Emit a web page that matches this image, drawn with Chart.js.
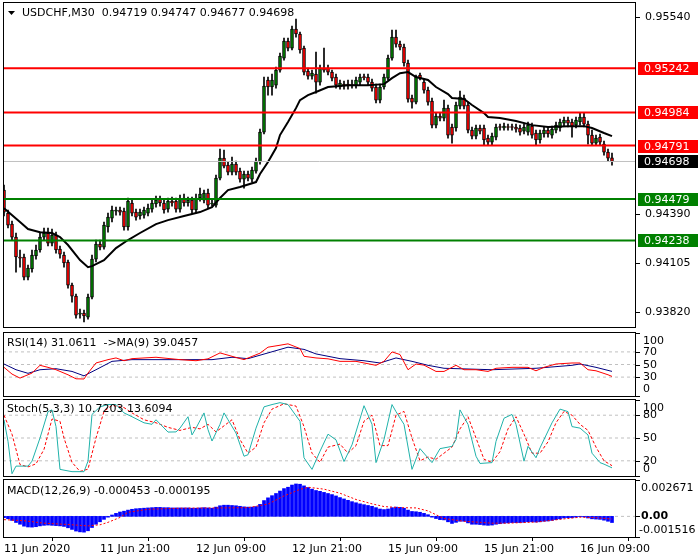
<!DOCTYPE html>
<html>
<head>
<meta charset="utf-8">
<script src="https://cdn.jsdelivr.net/npm/chart.js@4.4.1/dist/chart.umd.min.js"></script>
<style>
html, body { margin: 0; padding: 0; background: #fff; }
#wrap { position: relative; width: 700px; height: 560px; background: #fff; overflow: hidden; }
canvas { position: absolute; left: 0; }
</style>
</head>
<body>
<div id="wrap">
  <canvas id="cMain" width="700" height="330" style="top:0px"></canvas>
  <canvas id="cRsi" width="700" height="70" style="top:330px"></canvas>
  <canvas id="cStoch" width="700" height="82" style="top:398px"></canvas>
  <canvas id="cMacd" width="700" height="82" style="top:478px"></canvas>
</div>
<script>
// ================== DATOS ==================
const timeIdx = [0, 24, 48, 72, 96, 120, 144];
const timeLabels = ['11 Jun 2020', '11 Jun 21:00', '12 Jun 09:00', '12 Jun 21:00', '15 Jun 09:00', '15 Jun 21:00', '16 Jun 09:00'];

const open = [
0.94531,0.94397,0.94333,0.94257,0.94141,0.94141,0.94024,0.94071,0.94147,0.94182,
0.94257,0.94281,0.94222,0.94269,0.94187,0.94152,0.94112,0.93977,0.93913,0.93808,
0.93814,0.93791,0.93907,0.94129,0.94216,0.94199,0.94316,0.94368,0.94409,0.94415,
0.94409,0.94316,0.94456,0.94403,0.94380,0.94385,0.94397,0.94420,0.94450,0.94479,
0.94456,0.94420,0.94467,0.94467,0.94420,0.94485,0.94456,0.94473,0.94415,0.94485,
0.94473,0.94514,0.94450,0.94444,0.94601,0.94718,0.94677,0.94636,0.94683,0.94642,
0.94595,0.94625,0.94595,0.94642,0.94695,0.94869,0.95173,0.95132,0.95143,0.95231,
0.95301,0.95400,0.95359,0.95470,0.95441,0.95359,0.95225,0.95196,0.95208,0.95161,
0.95237,0.95243,0.95219,0.95190,0.95132,0.95149,0.95149,0.95143,0.95143,0.95161,
0.95190,0.95190,0.95161,0.95132,0.95056,0.95132,0.95184,0.95301,0.95423,0.95382,
0.95365,0.95272,0.95068,0.95044,0.95202,0.95161,0.95114,0.95050,0.94910,0.94963,
0.94951,0.95009,0.94899,0.94893,0.95021,0.95068,0.95027,0.94881,0.94846,0.94893,
0.94893,0.94834,0.94811,0.94840,0.94899,0.94893,0.94899,0.94899,0.94899,0.94893,
0.94875,0.94869,0.94904,0.94864,0.94823,0.94858,0.94881,0.94852,0.94881,0.94893,
0.94922,0.94939,0.94928,0.94910,0.94928,0.94957,0.94916,0.94852,0.94805,0.94840,
0.94799,0.94753,0.94719];
const high = [
0.94560,0.94415,0.94351,0.94281,0.94182,0.94158,0.94094,0.94182,0.94211,0.94286,
0.94310,0.94310,0.94304,0.94286,0.94205,0.94170,0.94123,0.93989,0.93925,0.93837,
0.93832,0.93925,0.94152,0.94240,0.94240,0.94345,0.94397,0.94438,0.94432,0.94432,
0.94426,0.94485,0.94473,0.94420,0.94420,0.94432,0.94450,0.94479,0.94496,0.94496,
0.94473,0.94485,0.94490,0.94485,0.94502,0.94508,0.94490,0.94490,0.94508,0.94543,
0.94531,0.94537,0.94473,0.94619,0.94770,0.94764,0.94695,0.94724,0.94700,0.94660,
0.94642,0.94642,0.94665,0.94718,0.94887,0.95190,0.95190,0.95208,0.95248,0.95330,
0.95417,0.95417,0.95487,0.95528,0.95452,0.95371,0.95243,0.95231,0.95336,0.95260,
0.95359,0.95260,0.95231,0.95208,0.95173,0.95167,0.95173,0.95173,0.95190,0.95208,
0.95208,0.95208,0.95178,0.95149,0.95149,0.95208,0.95318,0.95464,0.95464,0.95400,
0.95382,0.95289,0.95085,0.95202,0.95213,0.95178,0.95132,0.95068,0.94980,0.94980,
0.95056,0.95027,0.94916,0.95044,0.95108,0.95085,0.95044,0.94899,0.94910,0.94910,
0.94910,0.94852,0.94864,0.94916,0.94916,0.94922,0.94916,0.94916,0.94916,0.94910,
0.94916,0.94928,0.94922,0.94881,0.94881,0.94899,0.94899,0.94904,0.94928,0.94945,
0.94957,0.94957,0.94945,0.94957,0.94980,0.94980,0.94934,0.94881,0.94852,0.94858,
0.94817,0.94770,0.94747];
const low = [
0.94380,0.94310,0.94240,0.94053,0.94082,0.94007,0.94007,0.94053,0.94129,0.94170,
0.94240,0.94205,0.94205,0.94164,0.94135,0.94082,0.93960,0.93878,0.93785,0.93785,
0.93762,0.93779,0.93896,0.94112,0.94182,0.94187,0.94286,0.94345,0.94385,0.94385,
0.94298,0.94298,0.94380,0.94356,0.94362,0.94368,0.94380,0.94403,0.94432,0.94438,
0.94397,0.94403,0.94438,0.94403,0.94403,0.94438,0.94438,0.94397,0.94397,0.94467,
0.94456,0.94426,0.94438,0.94432,0.94590,0.94660,0.94619,0.94619,0.94619,0.94578,
0.94543,0.94584,0.94578,0.94630,0.94683,0.94858,0.95085,0.95085,0.95126,0.95219,
0.95289,0.95342,0.95348,0.95423,0.95330,0.95202,0.95178,0.95178,0.95097,0.95143,
0.95219,0.95202,0.95167,0.95126,0.95120,0.95120,0.95120,0.95126,0.95126,0.95143,
0.95173,0.95143,0.95108,0.95039,0.95039,0.95120,0.95173,0.95289,0.95365,0.95348,
0.95254,0.95044,0.95009,0.95033,0.95173,0.95097,0.95027,0.94893,0.94893,0.94934,
0.94934,0.94834,0.94805,0.94875,0.95004,0.95004,0.94864,0.94829,0.94829,0.94858,
0.94794,0.94794,0.94794,0.94823,0.94881,0.94881,0.94881,0.94881,0.94869,0.94852,
0.94858,0.94852,0.94834,0.94794,0.94805,0.94840,0.94840,0.94834,0.94864,0.94875,
0.94904,0.94899,0.94840,0.94893,0.94910,0.94899,0.94799,0.94794,0.94794,0.94794,
0.94735,0.94700,0.94677];
const close = [
0.94403,0.94327,0.94257,0.94141,0.94135,0.94024,0.94077,0.94152,0.94182,0.94257,
0.94281,0.94222,0.94269,0.94182,0.94158,0.94106,0.93977,0.93913,0.93802,0.93814,
0.93797,0.93907,0.94129,0.94216,0.94199,0.94327,0.94374,0.94415,0.94415,0.94403,
0.94316,0.94467,0.94397,0.94374,0.94403,0.94415,0.94426,0.94456,0.94473,0.94456,
0.94415,0.94467,0.94456,0.94420,0.94479,0.94456,0.94473,0.94415,0.94485,0.94508,
0.94514,0.94444,0.94456,0.94601,0.94718,0.94671,0.94636,0.94683,0.94636,0.94595,
0.94625,0.94601,0.94648,0.94700,0.94869,0.95138,0.95132,0.95173,0.95231,0.95313,
0.95400,0.95359,0.95470,0.95441,0.95348,0.95219,0.95196,0.95213,0.95161,0.95243,
0.95231,0.95219,0.95184,0.95143,0.95155,0.95138,0.95138,0.95141,0.95173,0.95190,
0.95187,0.95161,0.95126,0.95056,0.95132,0.95190,0.95301,0.95423,0.95382,0.95365,
0.95272,0.95062,0.95044,0.95190,0.95184,0.95114,0.95044,0.94910,0.94963,0.94951,
0.95009,0.94852,0.94852,0.95027,0.95074,0.95021,0.94881,0.94846,0.94893,0.94875,
0.94823,0.94811,0.94846,0.94899,0.94896,0.94904,0.94896,0.94896,0.94887,0.94869,
0.94899,0.94910,0.94852,0.94823,0.94864,0.94881,0.94858,0.94887,0.94910,0.94928,
0.94939,0.94922,0.94899,0.94939,0.94957,0.94916,0.94852,0.94805,0.94834,0.94811,
0.94753,0.94718,0.94698];

const maIdx = [0,4,6,9,12,14,16,19,21,22,25,28,31,34,38,41,45,49,52,54,56,59,63,64,66,68,69,71,73,74,76,78,81,86,91,95,97,99,101,103,106,108,111,112,115,117,120,121,124,128,132,136,141,145,147,150,152];
const maVal = [0.94426,0.94345,0.94304,0.94286,0.94281,0.94257,0.94211,0.94123,0.94082,0.94088,0.94123,0.94193,0.94240,0.94281,0.94333,0.94356,0.94380,0.94403,0.94432,0.94485,0.94531,0.94549,0.94578,0.94625,0.94695,0.94776,0.94852,0.94928,0.95009,0.95056,0.95085,0.95103,0.95132,0.95143,0.95143,0.95149,0.95184,0.95213,0.95219,0.95190,0.95173,0.95132,0.95091,0.95068,0.95062,0.95027,0.94980,0.94957,0.94951,0.94934,0.94910,0.94899,0.94904,0.94904,0.94893,0.94864,0.94846];

const resistLevels = [0.95242, 0.94984, 0.94791];
const supportLevels = [0.94479, 0.94238];
const lastPrice = 0.94698;
const priceTicks = [0.95540, 0.94390, 0.94105, 0.93820];

// RSI(14) y su MA(9)
const rsiIdx = [0,2,4,7,9,11,13,16,18,20,21,23,26,28,30,32,38,44,48,51,54,57,60,64,66,69,71,74,75,78,81,84,88,93,95,97,99,101,103,105,108,110,113,115,118,121,123,127,131,133,135,138,142,144,146,148,151,152];
const rsiVal = [45.5,34.8,28.4,36.4,48.7,45.5,41.7,33.7,27.3,27,36.4,52.4,57.7,60.4,56,59.3,61.5,57.7,56,59,68.4,63,57.7,68,77.5,80.6,82.8,75.3,63,60.4,59,55,55,48.7,55,70,65.8,41.7,50.8,49,39,39,48.7,41.7,41.7,39,44,45.5,45.5,40,45.5,50.8,52.4,52.4,41.7,40,33.7,31.06];
const rsiMaIdx = [0,3,6,9,13,17,20,23,27,32,44,52,57,61,66,71,75,78,84,90,94,98,102,106,110,122,133,142,144,148,152];
const rsiMaVal = [50.8,41.7,36,41.7,43.3,39,32,41.7,55,57.7,57.7,57.7,61.5,59.3,68.4,77.5,74,66.8,59.3,56,52.4,60.4,55,48.7,44,41.7,44,48.7,50.8,45.5,39.05];
const rsiLevels = [70, 50, 30];

// Stoch(5,3,3)
const stIdx = [0,1,2,3,6,7,9,11,12,13,14,17,20,21,22,24,26,28,30,32,35,37,38,41,43,44,46,47,48,50,51,52,54,55,56,58,60,61,63,65,67,69,71,74,75,77,79,81,83,85,87,90,92,93,95,97,98,100,102,104,107,109,112,113,114,116,118,119,122,123,125,127,128,130,131,133,134,137,139,141,142,144,146,147,149,150,152];
const stVal = [73.8,45.6,3,13,13,19.5,50,84.7,87,65,8.7,5.7,5.7,19.5,81,91,94,94,83,78,70,68,74,57.8,58,63,78,54,63,83,61,46,68,83,74,56.5,26,28,63,91,94,96.5,94,72,24,8.7,32.6,55,47.6,19,41,92.5,68,17.6,48,94,84.7,68,8.7,36,17.6,36,39,48,87,68,26,16.5,17.6,45.6,76,81,68,19.5,39,24,37,70,88,84.7,65,63,54,30,17.6,15.6,10.72];
const stSigIdx = [0,2,4,6,8,10,12,14,15,17,19,21,23,25,27,30,32,35,38,41,44,47,49,51,53,55,57,59,61,63,65,67,70,73,75,77,79,81,84,86,88,90,92,94,96,98,100,102,104,106,108,110,112,114,116,118,120,122,124,126,128,130,132,134,136,138,140,142,144,146,148,150,152];
const stSigVal = [80,55,15,12,16,35,75,72,50,18,6,9,50,85,93,90,83,74,70,64,60,64,62,68,58,66,74,48,30,38,70,88,95,92,65,30,18,38,42,30,40,72,80,40,40,80,85,50,20,25,22,30,38,62,78,50,22,18,32,62,78,55,30,30,45,70,85,80,68,60,38,20,13.61];
const stLevels = [80, 50, 20];

// MACD(12,26,9)
const macdHist = [
-0.00010,-0.00018,-0.00030,-0.00045,-0.00058,-0.00072,-0.00078,-0.00079,-0.00076,-0.00070,
-0.00066,-0.00064,-0.00066,-0.00068,-0.00070,-0.00074,-0.00084,-0.00096,-0.00108,-0.00114,
-0.00116,-0.00106,-0.00082,-0.00058,-0.00040,-0.00022,-0.00006,0.00010,0.00022,0.00032,
0.00038,0.00046,0.00052,0.00056,0.00058,0.00060,0.00062,0.00064,0.00066,0.00066,
0.00064,0.00064,0.00062,0.00062,0.00062,0.00062,0.00062,0.00060,0.00060,0.00062,
0.00064,0.00062,0.00060,0.00068,0.00078,0.00082,0.00082,0.00080,0.00078,0.00074,
0.00070,0.00068,0.00068,0.00072,0.00088,0.00116,0.00136,0.00152,0.00168,0.00186,
0.00204,0.00214,0.00230,0.00238,0.00236,0.00224,0.00212,0.00200,0.00190,0.00184,
0.00176,0.00168,0.00160,0.00150,0.00138,0.00128,0.00118,0.00108,0.00100,0.00092,
0.00086,0.00080,0.00074,0.00064,0.00054,0.00050,0.00054,0.00064,0.00068,0.00066,
0.00060,0.00046,0.00036,0.00034,0.00030,0.00022,0.00012,-0.00006,-0.00016,-0.00024,
-0.00026,-0.00040,-0.00052,-0.00044,-0.00036,-0.00036,-0.00048,-0.00058,-0.00058,-0.00060,
-0.00064,-0.00066,-0.00064,-0.00058,-0.00054,-0.00050,-0.00048,-0.00046,-0.00046,-0.00046,
-0.00044,-0.00040,-0.00040,-0.00042,-0.00040,-0.00036,-0.00034,-0.00030,-0.00024,-0.00018,
-0.00012,-0.00010,-0.00010,-0.00006,-0.00002,-0.00004,-0.00012,-0.00018,-0.00020,-0.00022,
-0.00028,-0.00036,-0.000453];
const macdSigIdx = [0,5,10,16,21,24,26,29,31,36,44,54,61,66,70,74,76,80,84,88,92,95,99,103,106,108,110,115,122,126,133,139,144,148,152];
const macdSigVal = [-0.00024,-0.00032,-0.00050,-0.00060,-0.00070,-0.00062,-0.00044,-0.00008,0.00030,0.00052,0.00060,0.00062,0.00064,0.00090,0.00150,0.00198,0.00214,0.00200,0.00170,0.00124,0.00092,0.00072,0.00064,0.00062,0.00040,0.00012,-0.00016,-0.00036,-0.00050,-0.00050,-0.00042,-0.00022,-0.00006,-0.00010,-0.000195];

// ================== CONFIG ==================
const FONT = '11px "DejaVu Sans"';
const X_MIN = -0.25, X_MAX = 158;
Chart.defaults.font.family = '"DejaVu Sans"';
Chart.defaults.font.size = 11;
Chart.defaults.color = '#000';

const toPts = (idx, vals) => idx.map((x, k) => ({ x: x, y: vals[k] }));
const levelLine = (v, color, width, dash) => ({
    type: 'line',
    data: [{ x: X_MIN, y: v }, { x: X_MAX, y: v }],
    borderColor: color, borderWidth: width, borderDash: dash || [],
    pointRadius: 0, order: 0
});

// bordes, títulos y etiquetas del eje derecho
const panelDecor = {
    id: 'panelDecor',
    afterDatasetsDraw(chart, args, opts) {
        const ctx = chart.ctx, ca = chart.chartArea, y = chart.scales.y;
        ctx.save();
        ctx.strokeStyle = '#000';
        ctx.lineWidth = 1;
        ctx.strokeRect(ca.left + 0.5, ca.top - 0.5, ca.right - ca.left - 1, ca.bottom - ca.top + 1);
        ctx.textBaseline = 'middle';
        ctx.textAlign = 'left';
        (opts.ticks || []).forEach(t => {
            const py = Math.round(y.getPixelForValue(t.v)) + 0.5;
            ctx.beginPath();
            ctx.moveTo(ca.right, py);
            ctx.lineTo(ca.right + 4, py);
            ctx.stroke();
            const ty = Math.min(Math.max(py, ca.top + 8), ca.bottom - 7);
            ctx.font = t.bold ? 'bold ' + FONT : FONT;
            ctx.fillStyle = '#000';
            ctx.fillText(t.text, ca.right + (t.gap !== undefined ? t.gap : opts.labelGap), ty);
        });
        ctx.font = FONT;
        (opts.boxes || []).forEach(b => {
            const py = Math.round(y.getPixelForValue(b.v));
            ctx.fillStyle = b.bg;
            ctx.fillRect(ca.right + 2, py - 6, 60, 13);
            ctx.fillStyle = '#fff';
            ctx.fillText(b.text, ca.right + 8, py + 1);
        });
        ctx.fillStyle = '#000';
        ctx.fillText(opts.title, opts.titleX, ca.top + opts.titleDy);
        if (opts.arrow) {
            ctx.beginPath();
            ctx.moveTo(ca.left + 5, ca.top + 8);
            ctx.lineTo(ca.left + 12, ca.top + 8);
            ctx.lineTo(ca.left + 8.5, ca.top + 12);
            ctx.closePath();
            ctx.fill();
        }
        ctx.restore();
    }
};

const baseOptions = (padding, yMin, yMax, decor, xAxis) => ({
    responsive: false,
    animation: false,
    devicePixelRatio: 1,
    layout: { padding: padding },
    plugins: { legend: { display: false }, tooltip: { enabled: false }, panelDecor: decor },
    scales: {
        x: xAxis || { type: 'linear', min: X_MIN, max: X_MAX, offset: false, display: false },
        y: {
            position: 'right', min: yMin, max: yMax,
            ticks: { display: false }, grid: { display: false }, border: { display: false },
            afterFit(s) { s.width = 64; }
        }
    }
});

// ================== VELAS ==================
const idxAll = open.map((_, i) => i);
const bodies = idxAll.map(i => ({ x: i, y: [open[i], close[i]] }));
const wicks = idxAll.map(i => ({ x: i, y: [low[i], high[i]] }));
const bodyColors = idxAll.map(i => close[i] >= open[i] ? '#008000' : '#ff0000');

new Chart(document.getElementById('cMain'), {
    type: 'bar',
    data: {
        datasets: [
            ...resistLevels.map(v => levelLine(v, '#ff0000', 2)),
            ...supportLevels.map(v => levelLine(v, '#008000', 2)),
            levelLine(lastPrice, '#c0c0c0', 1),
            { type: 'line', data: toPts(maIdx, maVal), borderColor: '#000', borderWidth: 2, pointRadius: 0, order: 1 },
            { type: 'bar', data: bodies, backgroundColor: bodyColors, borderColor: '#000', borderWidth: 1,
              borderSkipped: false, barThickness: 3, grouped: false, minBarLength: 1, order: 2 },
            { type: 'bar', data: wicks, backgroundColor: '#000', barThickness: 1, grouped: false, order: 3 }
        ]
    },
    options: baseOptions({ left: 3, top: 3, bottom: 3, right: 0 }, 0.93733, 0.95622, {
        title: 'USDCHF,M30  0.94719 0.94747 0.94677 0.94698', titleX: 22, titleDy: 10, arrow: true,
        labelGap: 9,
        ticks: priceTicks.map(v => ({ v: v, text: v.toFixed(5) })),
        boxes: [
            ...resistLevels.map(v => ({ v: v, text: v.toFixed(5), bg: '#ff0000' })),
            { v: lastPrice, text: lastPrice.toFixed(5), bg: '#000' },
            ...supportLevels.map(v => ({ v: v, text: v.toFixed(5), bg: '#008000' }))
        ]
    }),
    plugins: [panelDecor]
});

// ================== RSI ==================
new Chart(document.getElementById('cRsi'), {
    type: 'line',
    data: {
        datasets: [
            ...rsiLevels.map(v => ({ ...levelLine(v, '#c0c0c0', 1, [3, 3]), order: 5 })),
            { data: toPts(rsiMaIdx, rsiMaVal), borderColor: '#000080', borderWidth: 1, pointRadius: 0, order: 2 },
            { data: toPts(rsiIdx, rsiVal), borderColor: '#ff0000', borderWidth: 1, pointRadius: 0, order: 1 }
        ]
    },
    options: baseOptions({ left: 3, top: 3, bottom: 4, right: 0 }, 0, 100, {
        title: 'RSI(14) 31.0611  ->MA(9) 39.0457', titleX: 7, titleDy: 10, labelGap: 7,
        ticks: [100, 70, 50, 30, 0].map(v => ({ v: v, text: String(v) }))
    }),
    plugins: [panelDecor]
});

// ================== STOCH ==================
new Chart(document.getElementById('cStoch'), {
    type: 'line',
    data: {
        datasets: [
            ...stLevels.map(v => ({ ...levelLine(v, '#c0c0c0', 1, [3, 3]), order: 5 })),
            { data: toPts(stSigIdx, stSigVal), borderColor: '#ff0000', borderWidth: 1, borderDash: [3, 2], pointRadius: 0, order: 2 },
            { data: toPts(stIdx, stVal), borderColor: '#20b2aa', borderWidth: 1, pointRadius: 0, order: 1 }
        ]
    },
    options: baseOptions({ left: 3, top: 2, bottom: 4, right: 0 }, 0, 100, {
        title: 'Stoch(5,3,3) 10.7203 13.6094', titleX: 7, titleDy: 9, labelGap: 7,
        ticks: [100, 80, 50, 20, 0].map(v => ({ v: v, text: String(v) }))
    }),
    plugins: [panelDecor]
});

// ================== MACD ==================
new Chart(document.getElementById('cMacd'), {
    type: 'bar',
    data: {
        datasets: [
            { ...levelLine(0, '#c0c0c0', 1, [3, 3]), order: 5 },
            { type: 'line', data: toPts(macdSigIdx, macdSigVal), borderColor: '#ff0000', borderWidth: 1, borderDash: [2, 2], pointRadius: 0, order: 1 },
            { type: 'bar', data: idxAll.map(i => ({ x: i, y: macdHist[i] })), backgroundColor: '#0000ff', barThickness: 3, grouped: false, order: 2 }
        ]
    },
    options: baseOptions({ left: 3, top: 2, bottom: 0, right: 0 }, -0.001516, 0.002671, {
        title: 'MACD(12,26,9) -0.000453 -0.000195', titleX: 7, titleDy: 11, labelGap: 5,
        ticks: [
            { v: 0.002671, text: '0.002671' },
            { v: 0, text: '0.00', bold: true },
            { v: -0.001516, text: '-0.001516', gap: 3 }
        ]
    }, {
        type: 'linear', min: X_MIN, max: X_MAX, offset: false, position: 'bottom',
        afterBuildTicks(s) { s.ticks = timeIdx.map(v => ({ value: v })); },
        afterFit(s) { s.height = 23; },
        ticks: { autoSkip: false, maxRotation: 0, align: 'start', padding: 2,
                 callback: v => timeLabels[timeIdx.indexOf(v)] },
        grid: { drawOnChartArea: false, drawTicks: true, tickLength: 4, color: '#000' },
        border: { display: false }
    }),
    plugins: [panelDecor]
});
</script>
</body>
</html>
